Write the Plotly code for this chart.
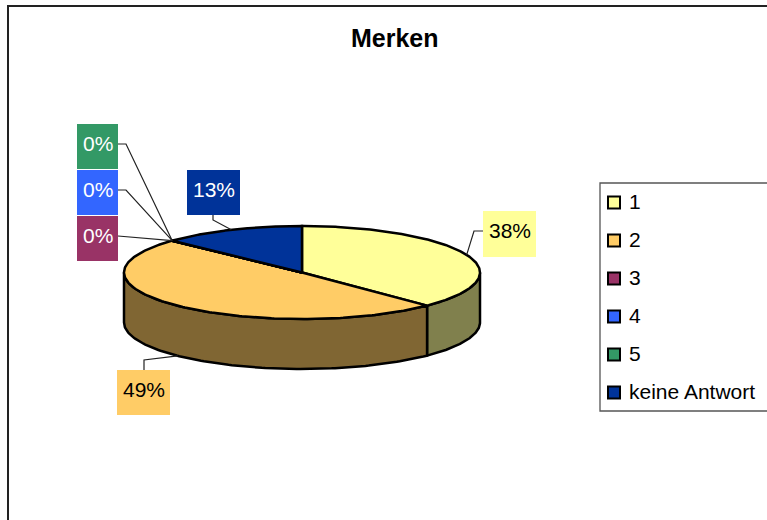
import numpy as np
import plotly.graph_objects as go

TITLE = "Merken"
categories = ["1", "2", "3", "4", "5", "keine Antwort"]
values = [37.6, 49.4, 0, 0, 0, 13.0]
labels = ["38%", "49%", "0%", "0%", "0%", "13%"]
top_colors = ["#FFFF99", "#FFCC66", "#993366", "#3366FF", "#339966", "#003399"]
side_colors = ["#80804D", "#806633", "#4D1A33", "#1A3380", "#1A4D33", "#001A4D"]
label_text_colors = ["#000000", "#000000", "#FFFFFF", "#FFFFFF", "#FFFFFF", "#FFFFFF"]

# Layout in page pixels
W, H = 767, 520
CX, CY, RX, RY, DEPTH = 302, 272.5, 178, 46.5, 50
FONT = "Liberation Sans, Arial, sans-serif"
label_boxes = [(483, 211, 536, 257), (117, 370, 170, 415), (77, 216, 118, 261),
               (77, 170, 118, 215), (77, 124, 118, 169), (187, 170, 240, 215)]
leader_elbows = [[(483, 231), (474, 231)], [(144, 370), (144, 360)], [(118, 236)],
                 [(118, 190), (126, 190)], [(118, 144), (126, 144)], [(213, 215), (213, 220)]]
legend_x, legend_y0, legend_step = 614, 202.5, 38

total = sum(values)
edges = np.concatenate([[0.0], np.cumsum(values)]) / total * 2 * np.pi


def ell(t, dy=0.0):
    return CX + RX * np.sin(t), CY - RY * np.cos(t) + dy


fig = go.Figure()
FRONT0, FRONT1 = np.pi / 2, 3 * np.pi / 2
EDGE = dict(color="black", width=2.5)

# Side walls (only the front half of the disc is visible)
for i, name in enumerate(categories):
    a, b = max(edges[i], FRONT0), min(edges[i + 1], FRONT1)
    if b <= a:
        continue
    t = np.linspace(a, b, 120)
    x1, y1 = ell(t)
    x2, y2 = ell(t[::-1], DEPTH)
    fig.add_trace(go.Scatter(
        x=np.r_[x1, x2, x1[:1]], y=np.r_[y1, y2, y1[:1]], mode="lines", fill="toself",
        fillcolor=side_colors[i], line=EDGE, hoverinfo="skip", showlegend=False))

# Top faces
for i, name in enumerate(categories):
    t = np.linspace(edges[i], edges[i + 1], 200)
    x, y = ell(t)
    fig.add_trace(go.Scatter(
        x=np.r_[CX, x, CX], y=np.r_[CY, y, CY], mode="lines", fill="toself",
        fillcolor=top_colors[i], line=EDGE,
        name=name, text=labels[i], hoverinfo="name+text", showlegend=False))

# Leader lines, anchored at each slice's middle on the disc
for i in range(len(categories)):
    mid = (edges[i] + edges[i + 1]) / 2
    dy = DEPTH if i == 1 else 0
    ax, ay = ell(mid, dy)
    pts = leader_elbows[i] + [(ax, ay)]
    fig.add_trace(go.Scatter(
        x=[p[0] for p in pts], y=[p[1] for p in pts], mode="lines",
        line=dict(color="#222222", width=1.2), hoverinfo="skip", showlegend=False))

# Data labels: box plus text
shapes = [
    dict(type="path", path=f"M 8 {H} L 8 6 L {W} 6", line=dict(color="#222222", width=2), layer="below"),
    dict(type="path", path=f"M {W} 183 L 600 183 L 600 411 L {W} 411", line=dict(color="#555555", width=1.3), layer="below"),
]
for i, (x0, y0, x1, y1) in enumerate(label_boxes):
    shapes.append(dict(type="rect", x0=x0, y0=y0, x1=x1, y1=y1,
                       fillcolor=top_colors[i], line=dict(width=0), layer="above"))
    fig.add_annotation(
        x=(x0 + x1) / 2, y=(y0 + y1) / 2 - 3.5, text=labels[i], showarrow=False,
        font=dict(family=FONT, size=21, color=label_text_colors[i]))

# Legend
for i, name in enumerate(categories):
    fig.add_trace(go.Scatter(
        x=[legend_x], y=[legend_y0 + i * legend_step], mode="markers",
        marker=dict(symbol="square", size=12, color=top_colors[i],
                    line=dict(color="black", width=2)),
        hoverinfo="skip", showlegend=False))
    fig.add_annotation(x=legend_x + 12.5, y=legend_y0 + i * legend_step - 1.5, text=name,
                       showarrow=False, xanchor="left",
                       font=dict(family=FONT, size=21, color="black"))

fig.add_annotation(x=394.5, y=38, text="<b>" + TITLE + "</b>", showarrow=False,
                   font=dict(family=FONT, size=25, color="black"))

fig.update_layout(
    width=W, height=H, margin=dict(l=0, r=0, t=0, b=0),
    paper_bgcolor="white", plot_bgcolor="white", showlegend=False,
    xaxis=dict(range=[0, W], visible=False, fixedrange=True),
    yaxis=dict(range=[H, 0], visible=False, fixedrange=True),
    shapes=shapes,
)

fig.write_html("out.html", config={"displayModeBar": False},
               post_script="document.body.style.margin='0';")
